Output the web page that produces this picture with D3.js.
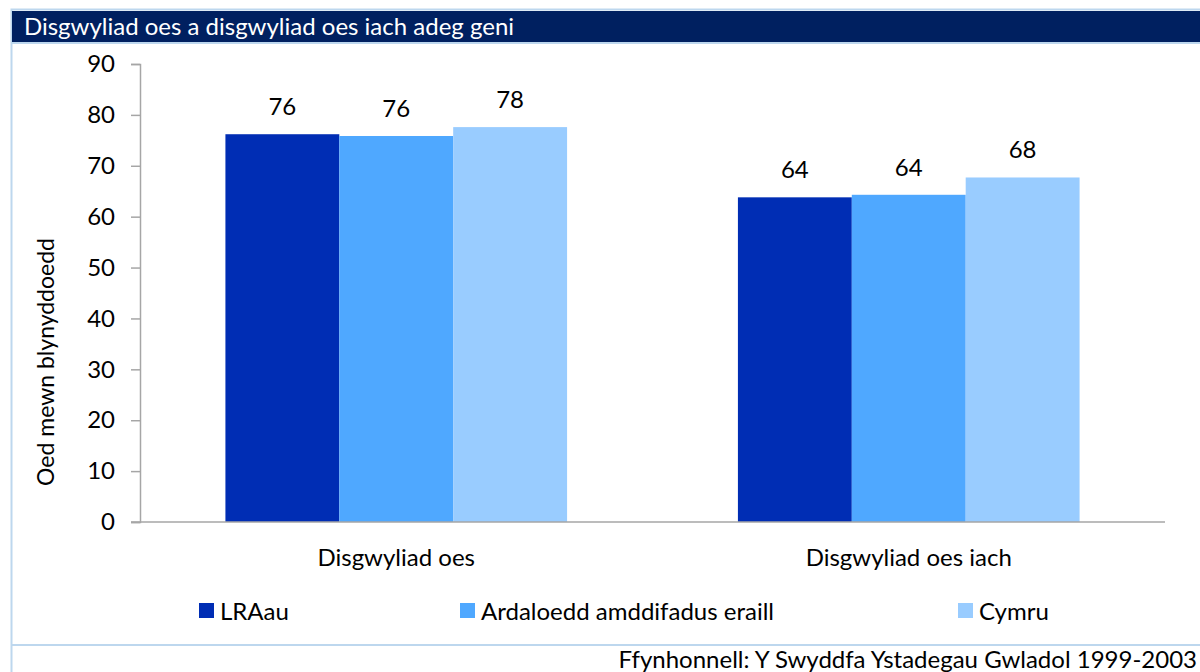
<!DOCTYPE html>
<html>
<head>
<meta charset="UTF-8">
<style>
	body { margin: 0; background: #fff; }
	svg { display: block; }
	.cal { font-family: Lato, "Open Sans", sans-serif; }
</style>
<script src="https://d3js.org/d3.v7.min.js"></script>
</head>
<body>
<div id="chart"></div>
<script>

var categories = ["Disgwyliad oes", "Disgwyliad oes iach"];
var seriesNames = ["LRAau", "Ardaloedd amddifadus eraill", "Cymru"];
var seriesColors = ["#002DB4", "#4FA8FF", "#99CCFF"];
var lraau = [76.2, 63.8];
var ardaloedd = [75.85, 64.3];
var cymru = [77.6, 67.7];
var yTicks = [0, 10, 20, 30, 40, 50, 60, 70, 80, 90];

var title = "Disgwyliad oes a disgwyliad oes iach adeg geni";
var yLabel = "Oed mewn blynyddoedd";
var source = "Ffynhonnell: Y Swyddfa Ystadegau Gwladol 1999-2003";

var W = 1200, H = 672;
var fs = "24px";
var svg = d3.select("#chart").append("svg")
	.attr("width", W)
	.attr("height", H);

// frame + title bar
svg.append("rect")
	.attr("x", 11.5).attr("y", 9.5)
	.attr("width", W).attr("height", H)
	.attr("fill", "none").attr("stroke", "#BDD7EE").attr("stroke-width", 2);
svg.append("rect")
	.attr("x", 12).attr("y", 11)
	.attr("width", W).attr("height", 31)
	.attr("fill", "#002060");
svg.append("line")
	.attr("x1", 11).attr("x2", W)
	.attr("y1", 43).attr("y2", 43)
	.attr("stroke", "#BDD7EE").attr("stroke-width", 2);
svg.append("text")
	.attr("class", "cal")
	.attr("x", 24).attr("y", 35)
	.attr("fill", "#fff")
	.style("font-size", "24px")
	.text(title);

// bottom source line
svg.append("line")
	.attr("x1", 11).attr("x2", W)
	.attr("y1", 645).attr("y2", 645)
	.attr("stroke", "#BDD7EE").attr("stroke-width", 2);
svg.append("text")
	.attr("class", "cal")
	.attr("x", 1197).attr("y", 668)
	.attr("text-anchor", "end")
	.attr("fill", "#000")
	.style("font-size", fs)
	.text(source);

// scales
var x0 = d3.scaleBand().domain(categories).range([140, 1165]).paddingInner(0).paddingOuter(0);
var x1 = d3.scaleBand().domain(seriesNames).range([0, x0.bandwidth()]).paddingOuter(0.75);
var y = d3.scaleLinear().domain([0, 90]).range([522, 64]);

var data = [lraau, ardaloedd, cymru];

// y axis
var yAxis = svg.append("g")
	.attr("transform", "translate(140,0)")
	.call(d3.axisLeft(y).tickValues(yTicks).tickSize(9).tickPadding(16));
yAxis.select(".domain").attr("stroke", "#A6A6A6").attr("stroke-width", 1.5);
yAxis.selectAll(".tick line").attr("stroke", "#A6A6A6").attr("stroke-width", 1.5);
yAxis.selectAll(".tick text")
	.attr("class", "cal")
	.attr("fill", "#000")
	.style("font-size", fs);

// bars
seriesNames.forEach(function(s, si){
	svg.append("g").selectAll("rect")
		.data(data[si])
		.enter().append("rect")
		.attr("x", function(d, i){ return x0(categories[i]) + x1(s); })
		.attr("y", function(d){ return y(d); })
		.attr("width", x1.bandwidth())
		.attr("height", function(d){ return y(0) - y(d); })
		.attr("fill", seriesColors[si]);

	svg.append("g").selectAll("text")
		.data(data[si])
		.enter().append("text")
		.attr("class", "cal")
		.attr("x", function(d, i){ return x0(categories[i]) + x1(s) + x1.bandwidth() / 2; })
		.attr("y", function(d){ return y(d) - 19; })
		.attr("text-anchor", "middle")
		.style("font-size", fs)
		.text(function(d){ return Math.round(d); });
});

// x axis line
svg.append("line")
	.attr("x1", 131).attr("x2", 1165)
	.attr("y1", y(0)).attr("y2", y(0))
	.attr("stroke", "#A6A6A6").attr("stroke-width", 1.5);

// category labels
svg.append("g").selectAll("text")
	.data(categories)
	.enter().append("text")
	.attr("class", "cal")
	.attr("x", function(d){ return x0(d) + x0.bandwidth() / 2; })
	.attr("y", 566)
	.attr("text-anchor", "middle")
	.style("font-size", fs)
	.text(function(d){ return d; });

// y label
svg.append("text")
	.attr("class", "cal")
	.attr("transform", "translate(54,362) rotate(-90)")
	.attr("text-anchor", "middle")
	.style("font-size", "23px")
	.text(yLabel);

// legend
var legendX = [199, 460, 958];
var legend = svg.append("g").selectAll("g")
	.data(seriesNames)
	.enter().append("g")
	.attr("transform", function(d, i){ return "translate(" + legendX[i] + ",603)"; });
legend.append("rect")
	.attr("width", 15).attr("height", 15)
	.attr("fill", function(d, i){ return seriesColors[i]; });
legend.append("text")
	.attr("class", "cal")
	.attr("x", 21).attr("y", 17)
	.style("font-size", fs)
	.text(function(d){ return d; });

</script>
</body>
</html>
